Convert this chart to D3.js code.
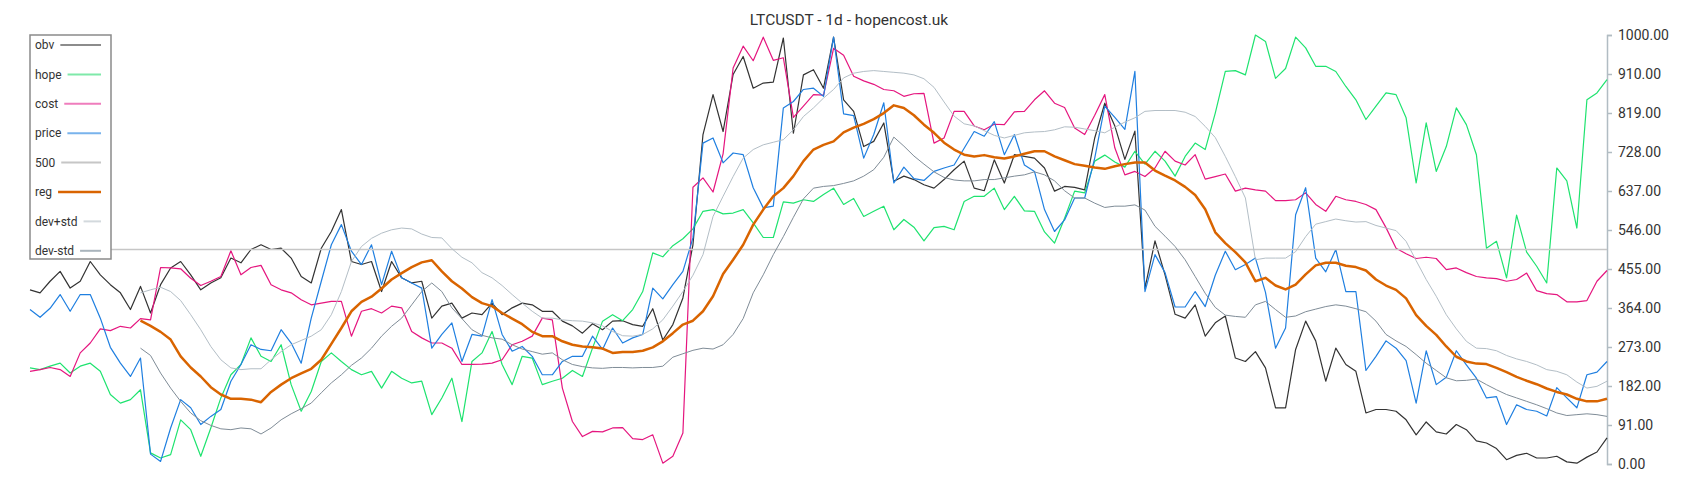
<!DOCTYPE html>
<html>
<head>
<meta charset="utf-8">
<title>LTCUSDT - 1d - hopencost.uk</title>
<script src="https://cdn.jsdelivr.net/npm/d3@7"></script>
<style>
  body { margin: 0; background: #fff; }
  svg text { font-family: Roboto, "Noto Sans", sans-serif; fill: #333; }
</style>
</head>
<body>
<svg id="chart" width="1700" height="500"></svg>
<script>
/*
 * LTCUSDT daily chart: obv, hope, cost, price, the 500 level,
 * a regression curve and its +/- std band, on a shared 0..1000 scale.
*/

// Values, one per ~10px step (158 samples).
var obv = [406,399,426,449,410,426,472,441,418,399,360,414,352,418,457,472,441,406,422,434,480,469,500,511,500,503,480,437,422,503,542,593,472,465,472,402,472,434,422,426,340,368,375,340,352,348,375,348,364,375,371,356,
  356,333,322,305,327,313,333,334,325,321,362,289,325,387,511,768,861,775,908,950,876,888,890,993,771,907,919,876,995,849,822,740,752,795,659,671,663,651,643,663,686,706,643,637,709,655,721,717,713,690,636,647,645,
  639,760,841,788,710,776,410,520,441,349,340,371,298,329,345,247,239,262,224,131,131,267,333,287,193,270,232,216,119,127,127,123,103,68,98,75,70,92,80,54,49,36,10,20,25,14,14,18,5,2,16,28,61];

var hope = [224,220,228,235,212,228,235,216,162,142,150,173,26,14,22,103,80,18,84,154,208,232,294,251,239,278,185,123,169,239,259,239,220,208,216,177,216,200,189,193,115,154,200,99,239,259,309,232,185,251,247,185,
  193,200,218,204,270,333,348,334,360,402,492,483,509,525,548,589,593,583,585,593,562,528,528,611,608,616,612,628,643,605,619,577,589,601,546,570,552,520,551,554,546,612,624,624,643,593,624,590,589,541,515,573,636,
  632,706,720,704,692,729,699,729,706,671,717,748,733,818,915,917,907,1000,985,899,922,995,970,927,927,915,880,849,803,834,865,861,807,655,795,682,740,830,791,721,503,519,434,580,494,461,422,690,660,550,849,865,896];

var cost = [216,220,225,220,204,259,282,315,311,321,317,339,336,458,457,455,433,416,426,437,497,441,458,463,418,406,399,383,371,375,379,379,298,356,362,352,368,364,309,294,282,282,270,232,232,233,235,243,278,286,298,340,
  336,177,99,64,76,75,84,85,59,57,68,2,18,72,645,667,634,723,923,974,940,995,941,947,808,834,861,860,969,953,904,893,885,873,870,857,863,864,748,760,822,822,788,779,792,791,821,822,849,870,841,831,783,
  768,813,861,737,674,682,670,690,729,706,697,721,664,670,676,636,643,639,636,614,614,616,632,605,589,624,616,612,605,593,551,503,490,479,482,479,453,457,446,437,434,432,426,430,445,404,397,395,378,378,381,426,451];

var price = [360,342,363,395,356,395,395,340,272,235,204,247,23,6,84,150,131,92,111,127,193,232,278,267,264,313,282,235,340,426,511,558,496,465,511,418,496,434,422,410,270,302,329,239,302,298,383,302,263,274,251,208,
  208,239,251,251,298,267,317,282,294,302,410,385,418,449,527,748,760,702,725,721,644,597,601,830,845,873,876,857,995,816,812,713,768,842,655,692,665,661,682,690,697,736,775,764,798,721,768,697,682,593,542,569,620,
  620,713,834,808,780,915,402,488,446,366,366,402,367,440,496,453,465,480,400,270,317,581,644,480,448,500,402,402,218,251,287,270,241,142,264,185,202,264,231,200,154,157,92,138,127,123,112,178,154,131,208,214,239];

// Rolling curves only begin after the first 11 samples.
var reg = [null,null,null,null,null,null,null,null,null,null,null,
  334,322,308,290,251,225,204,179,162,152,152,150,144,168,185,200,211,222,243,280,317,356,378,390,409,430,445,459,470,475,449,426,409,389,375,368,352,339,326,308,298,
  298,286,278,274,272,269,259,261,261,264,272,286,305,325,334,356,391,443,476,511,558,593,624,643,671,706,733,744,752,773,784,793,804,818,836,830,813,791,772,749,733,721,717,720,715,712,717,723,729,729,717,708,699,
  695,691,688,694,699,703,703,684,672,661,646,627,594,540,515,494,470,426,434,416,407,418,442,463,469,469,462,459,451,430,416,406,386,347,322,301,274,250,239,234,233,224,214,203,194,186,176,168,162,152,146,146,152];

var devPlus = [null,null,null,null,null,null,null,null,null,null,null,
  399,406,412,402,381,348,313,274,243,224,220,222,222,243,262,278,288,298,313,348,402,472,507,526,538,546,550,548,536,528,527,502,482,469,446,434,416,395,375,356,340,
  340,336,334,333,329,322,309,299,298,302,315,336,368,402,440,488,577,624,670,713,733,744,750,756,779,810,830,853,873,900,911,915,917,915,913,911,907,898,878,844,811,793,788,777,766,760,766,772,774,775,779,786,785,
  781,777,772,785,797,807,822,824,824,824,820,810,787,761,717,670,620,476,480,480,480,495,530,559,565,571,567,564,565,556,550,544,519,474,430,391,348,315,286,270,269,264,253,245,239,231,220,216,208,191,177,181,193];

var devMinus = [null,null,null,null,null,null,null,null,null,null,null,
  270,253,212,177,146,119,101,90,82,80,84,82,70,84,103,117,129,142,166,189,208,230,247,270,298,321,340,371,402,422,402,364,339,313,300,294,291,278,268,262,256,
  259,243,232,227,224,223,225,225,224,225,225,228,249,257,265,270,268,278,302,339,399,441,488,530,575,618,643,647,649,654,660,671,686,715,762,741,718,699,681,668,662,660,660,663,663,667,671,674,681,674,660,637,620,
  620,608,598,601,601,604,592,554,531,507,476,437,398,365,347,344,342,371,379,360,342,345,355,361,367,371,368,362,355,333,302,287,274,255,235,218,201,194,195,198,185,173,162,154,146,138,129,119,113,115,117,115,111];

var LEVEL = 500;

var tickLabels = ["0.00","91.00","182.00","273.00","364.00","455.00","546.00","637.00","728.00","819.00","910.00","1000.00"];

var legendNames = ["obv","hope","cost","price","500","reg","dev+std","dev-std"];
var lineColors = ["#333333","#1ee36f","#e5167f","#1f7fe0","#c6c6c6","#d96400","#b3bec6","#7f8c97"];
var legendColors = ["#8c8c8c","#7fe9a9","#ef7dbd","#79b3ec","#c6c6c6","#d96400","#d3d9dd","#a9b4bc"];
var lineWidths = [1.2,1.2,1.2,1.2,1.5,2.5,1,1];

var svg = d3.select("#chart"),
    width = +svg.attr("width"),
    height = +svg.attr("height");

var x = d3.scaleLinear().domain([0, obv.length - 1]).range([30, 1607]);
var y = d3.scaleLinear().domain([0, 1000]).range([464, 35]);

var line = d3.line()
  .defined(function(d) { return d !== null; })
  .x(function(d, i) { return x(i); })
  .y(function(d) { return y(d); });

// Title
svg.append("text")
  .attr("x", 849)
  .attr("y", 25)
  .attr("text-anchor", "middle")
  .style("font-size", "15.5px")
  .text("LTCUSDT - 1d - hopencost.uk");

// Right-hand value axis
var yAxis = d3.axisRight(y)
  .tickValues(tickLabels.map(function(d, i) { return i * 1000 / 11; }))
  .tickFormat(function(d, i) { return tickLabels[i]; })
  .tickSize(5)
  .tickPadding(6);

var axisG = svg.append("g")
  .attr("transform", "translate(1607,0)")
  .call(yAxis);
axisG.select(".domain").attr("stroke", "#b1bcc3").attr("stroke-width", 1.5);
axisG.selectAll(".tick line").attr("stroke", "#b1bcc3").attr("stroke-width", 1.5);
axisG.selectAll(".tick text").style("font-size", "14px").attr("fill", "#333");

// Series, drawn in legend order
var series = [obv, hope, cost, price, null, reg, devPlus, devMinus];
var plot = svg.append("g");
series.forEach(function(s, k) {
  if (s === null) {
    // the fixed 500 level
    plot.append("line")
      .attr("x1", x(0)).attr("x2", x(obv.length - 1))
      .attr("y1", y(LEVEL)).attr("y2", y(LEVEL))
      .attr("stroke", lineColors[k])
      .attr("stroke-width", lineWidths[k]);
    return;
  }
  plot.append("path")
    .datum(s)
    .attr("fill", "none")
    .attr("stroke", lineColors[k])
    .attr("stroke-width", lineWidths[k])
    .attr("stroke-linejoin", "round")
    .attr("d", line);
});

// Legend box, top left, sits on top of the lines
var legend = svg.append("g");
legend.append("rect")
  .attr("x", 30).attr("y", 35)
  .attr("width", 81).attr("height", 224)
  .attr("fill", "#fff")
  .attr("stroke", "#8a8a8a")
  .attr("stroke-width", 1.5);

legendNames.forEach(function(name, i) {
  var cy = 45 + i * 29.4;
  var t = legend.append("text")
    .attr("x", 35)
    .attr("y", cy)
    .attr("dy", "0.35em")
    .style("font-size", "12px")
    .text(name);
  var w = t.node().getComputedTextLength();
  legend.append("line")
    .attr("x1", 35 + w + 6).attr("x2", 101)
    .attr("y1", cy).attr("y2", cy)
    .attr("stroke", legendColors[i])
    .attr("stroke-width", i === 5 ? 2.5 : 2);
});
</script>
</body>
</html>
